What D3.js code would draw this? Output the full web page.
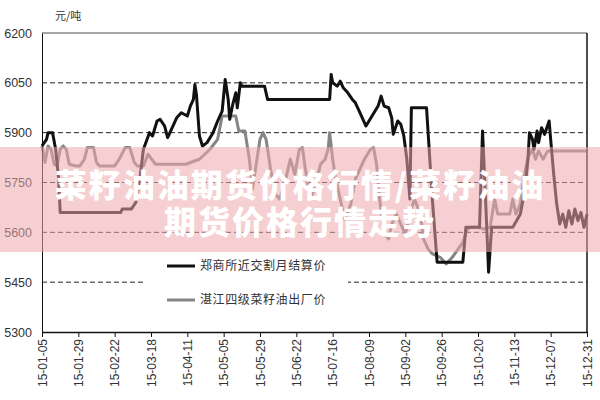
<!DOCTYPE html>
<html>
<head>
<meta charset="utf-8">
<script src="https://cdn.jsdelivr.net/npm/d3@7"></script>
<style>
  body { margin: 0; background: #fff; }
  svg { display: block; }
</style>
</head>
<body>
<svg id="chart"></svg>
<script>
// 郑商所近交割月结算价
const futDates = ["2015-01-05","2015-01-08","2015-01-09","2015-01-12","2015-01-14","2015-01-16","2015-01-17","2015-02-26","2015-02-27","2015-03-05",
  "2015-03-08","2015-03-11","2015-03-13","2015-03-17","2015-03-19","2015-03-22","2015-03-24","2015-03-27","2015-03-29","2015-04-02",
  "2015-04-04","2015-04-07","2015-04-11","2015-04-13","2015-04-15","2015-04-16","2015-04-17","2015-04-19","2015-04-21","2015-04-24",
  "2015-04-28","2015-05-01","2015-05-04","2015-05-06","2015-05-08","2015-05-09","2015-05-11","2015-05-13","2015-05-14","2015-05-16",
  "2015-05-17","2015-06-01","2015-06-03","2015-07-14","2015-07-15","2015-07-16","2015-07-19","2015-07-21","2015-07-23","2015-07-26",
  "2015-07-29","2015-07-31","2015-08-03","2015-08-07","2015-08-11","2015-08-15","2015-08-17","2015-08-19","2015-08-22","2015-08-24",
  "2015-08-25","2015-08-28","2015-08-30","2015-09-01","2015-09-03","2015-09-05","2015-09-06","2015-09-16","2015-09-20","2015-09-23",
  "2015-10-10","2015-10-12","2015-10-21","2015-10-23","2015-10-25","2015-10-27","2015-10-29","2015-11-12","2015-11-17","2015-11-20",
  "2015-11-22","2015-11-23","2015-11-25","2015-11-26","2015-11-28","2015-11-29","2015-12-01","2015-12-03","2015-12-06","2015-12-07",
  "2015-12-09","2015-12-11","2015-12-13","2015-12-15","2015-12-17","2015-12-19","2015-12-21","2015-12-23","2015-12-25","2015-12-27",
  "2015-12-29","2015-12-31"];
const futValues = [5860,5880,5900,5900,5850,5760,5660,5660,5670,5670,
  5690,5775,5850,5900,5890,5935,5940,5920,5885,5925,
  5945,5960,5950,5980,6000,6045,6015,5890,5860,5870,
  5900,5935,5965,6060,6000,5940,5985,6020,5975,6050,
  6040,6040,6000,6000,6075,6050,6040,6055,6035,6020,
  6000,5990,5960,5920,5950,5980,6010,5980,5975,5945,
  5895,5935,5925,5890,5820,5700,5975,5975,5690,5510,
  5510,5615,5615,5905,5700,5480,5615,5615,5655,5730,
  5820,5900,5880,5850,5905,5870,5915,5895,5935,5880,
  5775,5685,5625,5655,5615,5665,5625,5670,5635,5660,
  5615,5655];

// 湛江四级菜籽油出厂价
const spotDates = ["2015-01-05","2015-01-07","2015-01-09","2015-01-11","2015-01-13","2015-01-15","2015-01-17","2015-01-19","2015-01-21","2015-01-23",
  "2015-01-27","2015-01-30","2015-02-02","2015-02-04","2015-02-08","2015-02-10","2015-02-12","2015-02-22","2015-02-25","2015-03-01",
  "2015-03-04","2015-03-07","2015-03-09","2015-03-13","2015-03-16","2015-03-21","2015-03-31","2015-04-10","2015-04-19","2015-04-26",
  "2015-05-01","2015-05-04","2015-05-13","2015-05-15","2015-05-19","2015-05-22","2015-05-24","2015-05-26","2015-05-29","2015-05-31",
  "2015-06-02","2015-06-05","2015-06-08","2015-06-11","2015-06-15","2015-06-18","2015-06-21","2015-06-24","2015-06-26","2015-06-28",
  "2015-07-01","2015-07-04","2015-07-08","2015-07-11","2015-07-13","2015-07-14","2015-07-16","2015-07-18","2015-07-21","2015-07-24",
  "2015-07-28","2015-07-31","2015-08-03","2015-08-06","2015-08-10","2015-08-12","2015-08-14","2015-08-16","2015-08-19","2015-08-22",
  "2015-08-24","2015-08-27","2015-08-30","2015-09-02","2015-09-05","2015-09-08","2015-09-12","2015-09-14","2015-09-17","2015-09-20",
  "2015-09-25","2015-09-29","2015-10-03","2015-10-07","2015-10-10","2015-10-13","2015-10-15","2015-10-20","2015-10-24","2015-10-28",
  "2015-10-31","2015-11-02","2015-11-10","2015-11-12","2015-11-14","2015-11-17","2015-11-19","2015-11-22","2015-11-25","2015-11-27",
  "2015-11-29","2015-12-02","2015-12-05","2015-12-08","2015-12-31"];
const spotValues = [5860,5810,5860,5850,5805,5800,5850,5860,5850,5805,
  5800,5800,5820,5855,5855,5810,5800,5800,5820,5855,
  5855,5810,5800,5800,5835,5805,5805,5805,5820,5850,
  5880,5950,5950,5905,5905,5820,5730,5790,5880,5900,
  5880,5790,5715,5700,5760,5820,5775,5850,5855,5790,
  5700,5730,5805,5820,5850,5900,5820,5760,5700,5640,
  5685,5760,5790,5820,5850,5855,5805,5700,5595,5580,
  5625,5655,5625,5595,5655,5700,5655,5580,5550,5535,
  5525,5505,5525,5550,5570,5610,5615,5615,5610,5615,
  5700,5655,5655,5700,5655,5685,5760,5825,5850,5820,
  5845,5820,5845,5845,5845];

const yTicks = [5300, 5450, 5600, 5750, 5900, 6050, 6200];
const xTickLabels = ["15-01-05","15-01-29","15-02-22","15-03-18","15-04-11","15-05-05","15-05-29","15-06-22",
  "15-07-16","15-08-09","15-09-02","15-09-26","15-10-20","15-11-13","15-12-07","15-12-31"];
const seriesNames = ["郑商所近交割月结算价", "湛江四级菜籽油出厂价"];
const overlayLines = ["菜籽油油期货价格行情/菜籽油油", "期货价格行情走势"];

const W = 600, H = 400;
const margin = { top: 33, right: 13, bottom: 68, left: 42 };
const parse = d3.timeParse("%Y-%m-%d");
const parseTick = d3.timeParse("%y-%m-%d");
const fmtTick = d3.timeFormat("%y-%m-%d");

const svg = d3.select("#chart").attr("width", W).attr("height", H);
const numFont = "'Liberation Sans', Arial, sans-serif";
const cjkFont = "'Noto Sans CJK SC', sans-serif";

const x = d3.scaleTime()
    .domain([parseTick(xTickLabels[0]), parseTick(xTickLabels[xTickLabels.length - 1])])
    .range([margin.left, W - margin.right]);
const y = d3.scaleLinear().domain([5300, 6200]).range([H - margin.bottom, margin.top]);

const fut = futDates.map((d, i) => ({ date: parse(d), value: futValues[i] }));
const spot = spotDates.map((d, i) => ({ date: parse(d), value: spotValues[i] }));

// dashed grid
svg.append("g").selectAll("line")
    .data(yTicks.filter(v => v > 5300 && v < 6200))
    .enter().append("line")
    .attr("x1", margin.left).attr("x2", W - margin.right)
    .attr("y1", d => y(d)).attr("y2", d => y(d))
    .attr("stroke", "#222").attr("stroke-width", 1)
    .attr("stroke-dasharray", "5,3");

// top border
svg.append("line")
    .attr("x1", margin.left).attr("x2", W - margin.right)
    .attr("y1", y(6200)).attr("y2", y(6200))
    .attr("stroke", "#8a8a8a").attr("stroke-width", 1.5);

// legend box covers the grid
svg.append("rect")
    .attr("x", 143).attr("y", 245).attr("width", 205).attr("height", 75)
    .attr("fill", "#fff");

const line = d3.line().x(d => x(d.date)).y(d => y(d.value));

svg.append("path").datum(spot)
    .attr("d", line).attr("fill", "none")
    .attr("stroke", "#858585").attr("stroke-width", 3)
    .attr("stroke-linejoin", "round");

svg.append("path").datum(fut)
    .attr("d", line).attr("fill", "none")
    .attr("stroke", "#111").attr("stroke-width", 3)
    .attr("stroke-linejoin", "round");

// axes
const yAxis = svg.append("g")
    .attr("transform", `translate(${margin.left},0)`)
    .call(d3.axisLeft(y).tickValues(yTicks).tickFormat(d3.format("d")).tickSize(0).tickPadding(10));
yAxis.select(".domain").attr("stroke", "#111");
yAxis.selectAll("text").attr("font-family", numFont).attr("font-size", 12.5).attr("fill", "#333");

svg.append("line")
    .attr("x1", W - margin.right).attr("x2", W - margin.right)
    .attr("y1", y(6200)).attr("y2", y(5300))
    .attr("stroke", "#111").attr("stroke-width", 1.5);

const xAxis = svg.append("g")
    .attr("transform", `translate(0,${y(5300)})`)
    .call(d3.axisBottom(x).tickValues(xTickLabels.map(parseTick)).tickFormat(fmtTick).tickSize(5).tickSizeOuter(0));
xAxis.select(".domain").attr("stroke", "#111").attr("stroke-width", 1.5);
xAxis.selectAll(".tick line").attr("stroke", "#111");
xAxis.selectAll("text")
    .attr("font-family", numFont).attr("font-size", 12).attr("fill", "#333")
    .attr("transform", "rotate(-90)")
    .attr("text-anchor", "end")
    .attr("x", -7).attr("y", 0).attr("dy", "0.35em");

svg.append("text")
    .attr("x", 55).attr("y", 20)
    .attr("font-family", cjkFont).attr("font-size", 11).attr("fill", "#333")
    .text("元/吨");

// legend
const legend = svg.append("g").selectAll("g")
    .data(seriesNames).enter().append("g")
    .attr("transform", (d, i) => `translate(167,${266 + i * 34})`);
legend.append("line")
    .attr("x1", 0).attr("x2", 28)
    .attr("stroke", (d, i) => i === 0 ? "#111" : "#858585")
    .attr("stroke-width", 3);
legend.append("text")
    .attr("x", 33).attr("dy", "0.35em")
    .attr("font-family", cjkFont).attr("font-size", 12).attr("fill", "#333")
    .attr("letter-spacing", 0.6)
    .text(d => d);

// pink overlay with title
svg.append("rect")
    .attr("x", 0).attr("y", 147).attr("width", W).attr("height", 105)
    .attr("fill", "rgb(236,168,172)").attr("opacity", 0.55);

svg.append("g").selectAll("text")
    .data(overlayLines).enter().append("text")
    .attr("x", W / 2).attr("y", (d, i) => 183 + i * 37)
    .attr("text-anchor", "middle").attr("dominant-baseline", "central")
    .attr("font-family", cjkFont).attr("font-weight", 900).attr("font-size", 32)
    .attr("letter-spacing", 2)
    .attr("fill", "#fff")
    .text(d => d);
</script>
</body>
</html>
